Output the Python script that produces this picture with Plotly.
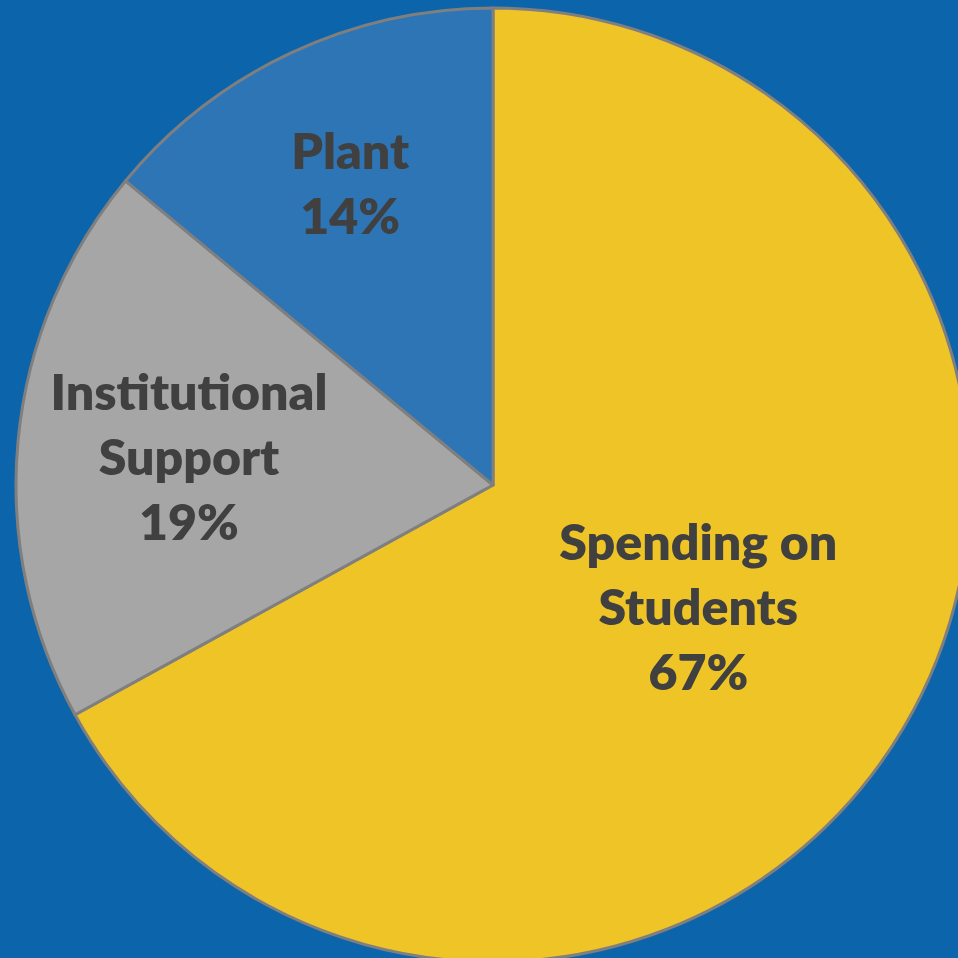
import plotly.graph_objects as go

# Spending breakdown
categories = ["Spending on<br>Students", "Institutional<br>Support", "Plant"]
shares = [67, 19, 14]
slice_colors = ["#EEC426", "#A6A6A6", "#2E75B6"]

W, H = 986, 970
R = 477

fig = go.Figure(
    go.Pie(
        labels=categories,
        values=shares,
        sort=False,
        direction="clockwise",
        rotation=0,
        marker=dict(colors=slice_colors, line=dict(color="#7F7F7F", width=3)),
        texttemplate="%{label}<br>%{value}%",
        textposition="inside",
        insidetextorientation="horizontal",
        textfont=dict(family="Lato", size=50, color="#404040", weight=800),
        hoverinfo="label+percent",
        domain=dict(x=[0, 1], y=[(H / 2 - R) / H, (H / 2 + R) / H]),
        showlegend=False,
    )
)

fig.update_layout(
    width=W,
    height=H,
    margin=dict(l=0, r=0, t=0, b=0),
    paper_bgcolor="#0C64AA",
    plot_bgcolor="#0C64AA",
    uniformtext=dict(minsize=50, mode="show"),
)

fig.write_html(
    "out.html",
    post_script="document.documentElement.style.overflow='hidden';document.body.style.overflow='hidden';document.body.style.margin='0';",
)
